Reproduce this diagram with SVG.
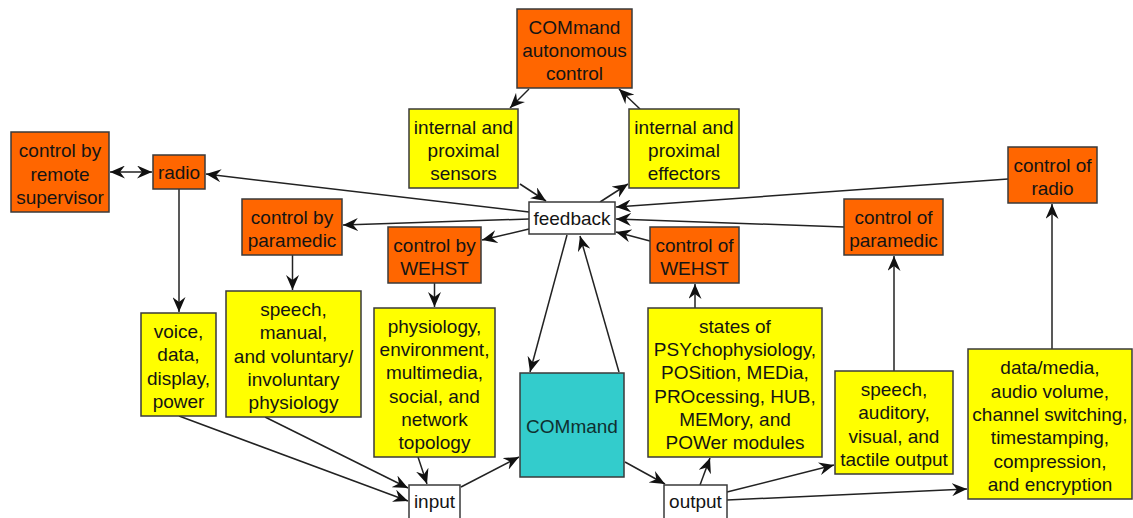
<svg xmlns="http://www.w3.org/2000/svg" width="1133" height="518" viewBox="0 0 1133 518">
  <style>
    .box { stroke: #3a3a3a; stroke-width: 1.5; }
    .orange { fill: #ff6600; }
    .yellow { fill: #ffff00; }
    .white { fill: #ffffff; }
    .teal { fill: #33cccc; }
    text { font-family: "Liberation Sans", Arial, sans-serif; font-size: 19px; fill: #141414; text-anchor: middle; }
    .dark { fill: #0f3030; }
    .edge { stroke: #222222; stroke-width: 1.5; fill: none; marker-end: url(#arrow); }
  </style>
  <defs>
    <marker id="arrow" markerUnits="userSpaceOnUse" viewBox="0 0 15 13" markerWidth="15" markerHeight="13" refX="15" refY="6.5" orient="auto">
      <path d="M0,0 L15,6.5 L0,13 L5,6.5 Z" fill="#111111"/>
    </marker>
    <marker id="arrow-start" markerUnits="userSpaceOnUse" viewBox="0 0 15 13" markerWidth="15" markerHeight="13" refX="15" refY="6.5" orient="auto-start-reverse">
      <path d="M0,0 L15,6.5 L0,13 L5,6.5 Z" fill="#111111"/>
    </marker>
  </defs>

  <rect width="1133" height="518" fill="#ffffff"/>

  <!-- connectors -->
  <g id="connectors">
    <!-- autonomous control loop -->
    <line class="edge" x1="529" y1="89" x2="510" y2="108"/>
    <line class="edge" x1="640" y1="109" x2="619" y2="89"/>
    <line class="edge" x1="520" y1="184" x2="546" y2="201"/>
    <line class="edge" x1="600" y1="202" x2="628" y2="184"/>
    <!-- feedback to control nodes -->
    <line class="edge" x1="529" y1="212" x2="206" y2="174"/>
    <line class="edge" x1="529" y1="219" x2="343" y2="225"/>
    <line class="edge" x1="529" y1="229" x2="482" y2="240"/>
    <!-- control-of nodes to feedback -->
    <line class="edge" x1="1008" y1="179" x2="616" y2="207"/>
    <line class="edge" x1="844" y1="227" x2="616" y2="219"/>
    <line class="edge" x1="650" y1="241" x2="616" y2="232"/>
    <!-- feedback and COMmand -->
    <line class="edge" x1="567" y1="235" x2="530" y2="372"/>
    <line class="edge" x1="619" y1="372" x2="580" y2="236"/>
    <!-- remote supervisor and radio -->
    <line class="edge" x1="110" y1="172" x2="152" y2="172" marker-start="url(#arrow-start)"/>
    <!-- controls down to inputs -->
    <line class="edge" x1="179" y1="189" x2="179" y2="312"/>
    <line class="edge" x1="292.5" y1="255" x2="292.5" y2="290"/>
    <line class="edge" x1="434.5" y1="283" x2="434.5" y2="307"/>
    <!-- outputs up to control-of nodes -->
    <line class="edge" x1="695" y1="308" x2="695" y2="284"/>
    <line class="edge" x1="894" y1="371" x2="894" y2="256"/>
    <line class="edge" x1="1052" y1="349" x2="1052" y2="204"/>
    <!-- inputs into input -->
    <line class="edge" x1="179" y1="416" x2="408" y2="501"/>
    <line class="edge" x1="265" y1="417" x2="408" y2="488"/>
    <line class="edge" x1="418" y1="457" x2="427" y2="484"/>
    <!-- input, COMmand, output -->
    <line class="edge" x1="461" y1="487" x2="519" y2="457"/>
    <line class="edge" x1="625" y1="462" x2="665" y2="484"/>
    <!-- output fan-out -->
    <line class="edge" x1="700" y1="485" x2="710" y2="458"/>
    <line class="edge" x1="727" y1="492" x2="834" y2="465"/>
    <line class="edge" x1="727" y1="500" x2="967" y2="489"/>
  </g>

  <!-- nodes -->
  <g id="cmd-autonomous">
    <rect class="box orange" x="517" y="9" width="115" height="79"/>
    <text><tspan x="574.5" y="33.7">COMmand</tspan><tspan x="574.5" y="57">autonomous</tspan><tspan x="574.5" y="80.3">control</tspan></text>
  </g>
  <g id="sensors">
    <rect class="box yellow" x="409" y="109" width="109" height="79"/>
    <text><tspan x="463.5" y="133.7">internal and</tspan><tspan x="463.5" y="157">proximal</tspan><tspan x="463.5" y="180.3">sensors</tspan></text>
  </g>
  <g id="effectors">
    <rect class="box yellow" x="629" y="109" width="110" height="79"/>
    <text><tspan x="684" y="133.7">internal and</tspan><tspan x="684" y="157">proximal</tspan><tspan x="684" y="180.3">effectors</tspan></text>
  </g>
  <g id="feedback">
    <rect class="box white" x="529" y="202" width="86" height="32"/>
    <text x="572" y="225">feedback</text>
  </g>
  <g id="remote-supervisor">
    <rect class="box orange" x="11" y="132" width="98" height="80"/>
    <text><tspan x="60" y="157.2">control by</tspan><tspan x="60" y="180.5">remote</tspan><tspan x="60" y="203.8">supervisor</tspan></text>
  </g>
  <g id="radio">
    <rect class="box orange" x="153" y="155" width="52" height="34"/>
    <text x="179" y="179">radio</text>
  </g>
  <g id="control-by-paramedic">
    <rect class="box orange" x="242" y="199" width="100" height="56"/>
    <text><tspan x="292" y="223.9">control by</tspan><tspan x="292" y="247.2">paramedic</tspan></text>
  </g>
  <g id="control-by-wehst">
    <rect class="box orange" x="388" y="227" width="93" height="56"/>
    <text><tspan x="434.5" y="251.9">control by</tspan><tspan x="434.5" y="275.2">WEHST</tspan></text>
  </g>
  <g id="control-of-wehst">
    <rect class="box orange" x="650" y="227" width="89" height="56"/>
    <text><tspan x="694.5" y="251.9">control of</tspan><tspan x="694.5" y="275.2">WEHST</tspan></text>
  </g>
  <g id="control-of-paramedic">
    <rect class="box orange" x="844" y="199" width="99" height="56"/>
    <text><tspan x="893.5" y="223.9">control of</tspan><tspan x="893.5" y="247.2">paramedic</tspan></text>
  </g>
  <g id="control-of-radio">
    <rect class="box orange" x="1008" y="147" width="89" height="56"/>
    <text><tspan x="1052.5" y="171.9">control of</tspan><tspan x="1052.5" y="195.2">radio</tspan></text>
  </g>
  <g id="voice-data">
    <rect class="box yellow" x="141" y="313" width="75" height="103"/>
    <text><tspan x="178.5" y="338">voice,</tspan><tspan x="178.5" y="361.3">data,</tspan><tspan x="178.5" y="384.6">display,</tspan><tspan x="178.5" y="407.9">power</tspan></text>
  </g>
  <g id="speech-manual">
    <rect class="box yellow" x="226" y="291" width="135" height="126"/>
    <text><tspan x="293.5" y="315.9">speech,</tspan><tspan x="293.5" y="339.2">manual,</tspan><tspan x="293.5" y="362.5">and voluntary/</tspan><tspan x="293.5" y="385.8">involuntary</tspan><tspan x="293.5" y="409.1">physiology</tspan></text>
  </g>
  <g id="physiology">
    <rect class="box yellow" x="374" y="308" width="121" height="149"/>
    <text><tspan x="434.5" y="332.8">physiology,</tspan><tspan x="434.5" y="356.1">environment,</tspan><tspan x="434.5" y="379.4">multimedia,</tspan><tspan x="434.5" y="402.7">social, and</tspan><tspan x="434.5" y="426">network</tspan><tspan x="434.5" y="449.3">topology</tspan></text>
  </g>
  <g id="command">
    <rect class="box teal" x="520" y="373" width="104" height="104"/>
    <text class="dark" x="572" y="433">COMmand</text>
  </g>
  <g id="module-states">
    <rect class="box yellow" x="648" y="308" width="174" height="149"/>
    <text><tspan x="735" y="332.8">states of</tspan><tspan x="735" y="356.1">PSYchophysiology,</tspan><tspan x="735" y="379.4">POSition, MEDia,</tspan><tspan x="735" y="402.7">PROcessing, HUB,</tspan><tspan x="735" y="426">MEMory, and</tspan><tspan x="735" y="449.3">POWer modules</tspan></text>
  </g>
  <g id="speech-output">
    <rect class="box yellow" x="835" y="371" width="118" height="103"/>
    <text><tspan x="894" y="396.1">speech,</tspan><tspan x="894" y="419.4">auditory,</tspan><tspan x="894" y="442.7">visual, and</tspan><tspan x="894" y="466">tactile output</tspan></text>
  </g>
  <g id="data-media">
    <rect class="box yellow" x="968" y="349" width="164" height="150"/>
    <text><tspan x="1050" y="374.3">data/media,</tspan><tspan x="1050" y="397.6">audio volume,</tspan><tspan x="1050" y="420.9">channel switching,</tspan><tspan x="1050" y="444.2">timestamping,</tspan><tspan x="1050" y="467.5">compression,</tspan><tspan x="1050" y="490.8">and encryption</tspan></text>
  </g>
  <g id="input">
    <rect class="box white" x="409" y="485" width="51" height="34"/>
    <text x="434.5" y="508">input</text>
  </g>
  <g id="output">
    <rect class="box white" x="664" y="485" width="63" height="34"/>
    <text x="695.5" y="508">output</text>
  </g>
</svg>
